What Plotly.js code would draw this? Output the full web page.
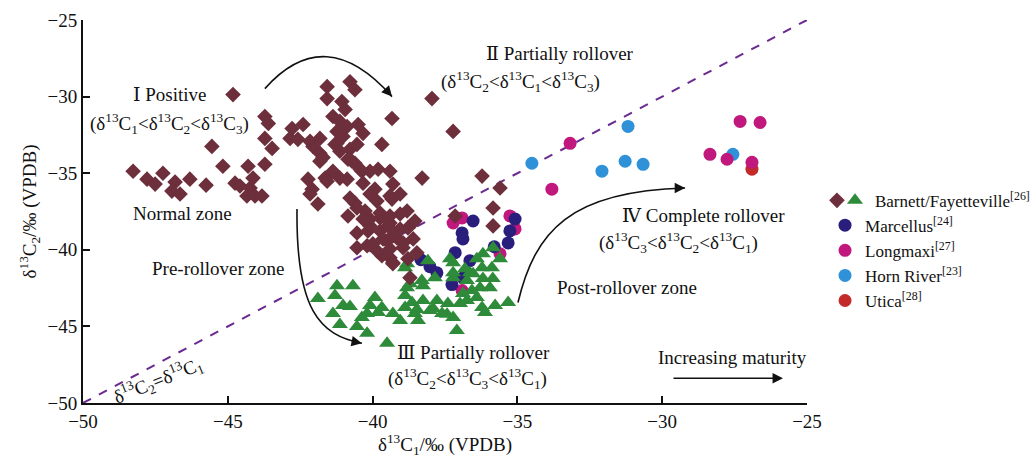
<!DOCTYPE html>
<html>
<head>
<meta charset="utf-8">
<script src="https://cdn.plot.ly/plotly-3.0.1.min.js"></script>
<style>html,body{margin:0;padding:0;background:#fff;}#chart{width:1032px;height:458px;}</style>
</head>
<body>
<div id="chart"></div>
<script>
// ---- data (δ13C1, δ13C2 in ‰ VPDB) ----
const barnettDiamondX = [-44.82,-43.72,-43.60,-43.72,-43.47,-45.55,-48.27,-47.79,-47.51,-47.24,-46.82,-46.93,-46.65,-46.31,-45.75,-45.17,-44.75,-44.58,-44.30,-44.13,-44.23,-44.34,-44.06,-43.82,-43.72,
 -42.78,-42.40,-42.85,-42.58,-42.16,-42.06,-41.82,-41.82,-42.23,-42.09,-41.89,-41.64,-41.57,-41.57,-41.06,-40.78,-40.61,-40.95,-41.37,-41.13,-40.88,-41.23,-41.02,-40.50,-40.33,-41.30,-41.13,-40.78,-40.85,-40.61,-41.13,-40.88,-40.37,-40.33,-40.09,-39.92,-39.68,-39.33,-39.40,-39.85,-39.33,-39.30,-38.81,-39.05,-40.61,-40.26,-40.09,-39.74,-40.54,-40.16,-39.74,-39.47,-39.99,-39.50,-39.16,-38.95,-39.40,-39.30,-38.29,-37.95,-39.68,-38.78,-38.60,
 -41.57,-42.16,-40.78,-40.54,-40.09,-39.40,-39.05,-40.85,-40.33,-39.74,-39.40,-40.09,-39.40,-39.05,-38.54,-39.64,-39.30,-38.95,-40.54,-40.19,-39.85,-39.40,-38.47,-38.78,
 -41.82,-41.71,-41.23,-40.54,-40.71,-40.43,-39.81,-41.37,
 -35.84,-35.84,-37.15,-38.71,-39.30,-36.22,-35.60,-37.22];
const barnettDiamondY = [-29.87,-31.30,-31.75,-32.73,-33.38,-33.25,-34.87,-35.39,-35.71,-35.00,-35.58,-36.17,-36.36,-35.39,-35.78,-34.55,-35.65,-35.84,-34.55,-35.32,-35.97,-36.49,-36.49,-36.49,-34.42,
 -32.08,-31.82,-32.73,-32.79,-32.92,-33.25,-33.70,-34.22,-35.39,-36.04,-37.01,-35.32,-30.13,-29.35,-30.32,-29.03,-29.55,-30.84,-31.30,-31.62,-31.95,-32.27,-32.60,-31.82,-32.40,-33.12,-33.57,-33.44,-34.09,-34.35,-35.32,-35.39,-34.87,-35.65,-34.87,-36.04,-33.12,-31.43,-34.87,-36.82,-36.69,-35.71,-37.47,-37.66,-36.95,-37.47,-37.99,-37.92,-38.90,-38.77,-38.77,-38.44,-39.61,-39.42,-39.22,-39.87,-40.52,-40.84,-35.32,-30.13,-40.39,-38.57,-39.29,
 -35.52,-36.36,-36.62,-37.27,-36.36,-36.49,-36.36,-37.79,-37.99,-37.60,-37.79,-38.44,-38.25,-38.64,-38.12,-39.29,-39.09,-39.55,-39.87,-39.74,-40.06,-39.94,-40.19,-40.58,
 -32.73,-33.97,-33.05,-33.12,-34.22,-34.74,-34.74,-34.87,
 -37.27,-38.44,-37.79,-41.82,-40.91,-35.19,-35.97,-32.27];

const barnettTriangleX = [-41.89,-41.23,-40.68,-41.30,-41.02,-40.78,-41.37,-41.13,-40.54,-40.19,-39.50,-39.92,-40.09,-40.19,-39.81,-39.68,-40.37,-39.30,-39.05,-38.88,-38.88,-38.64,-38.54,-38.43,-38.26,-38.26,-38.02,-37.78,-37.60,-37.40,-37.22,-37.09,-36.98,-36.88,-36.57,-36.40,-36.22,-36.12,-35.77,-35.32,-37.85,-37.22,-36.74,-36.19,-35.95,-38.88,-38.09,-37.22,-36.81,-36.19,-35.84,-35.60,-35.88,-36.22,-38.71,-36.53,-36.29,-35.85,-36.74,-37.91,-38.47,-38.81,-38.81,-37.43,-38.30,-37.33,-37.22,-36.40,-36.64];
const barnettTriangleY = [-43.18,-42.34,-42.34,-42.99,-43.64,-43.70,-44.16,-44.87,-45.00,-45.45,-46.10,-43.12,-43.64,-44.16,-44.09,-43.77,-44.42,-44.16,-44.61,-42.99,-43.77,-43.44,-44.16,-44.61,-42.34,-43.31,-43.96,-43.31,-44.16,-43.51,-44.42,-45.26,-43.51,-42.86,-42.66,-43.12,-43.77,-44.09,-43.64,-43.44,-41.82,-41.82,-42.01,-41.88,-42.47,-41.17,-40.71,-40.84,-41.23,-40.26,-39.87,-40.58,-41.17,-41.17,-42.21,-41.56,-42.47,-41.88,-43.31,-43.83,-43.90,-40.91,-42.47,-44.20,-42.00,-40.58,-41.49,-40.58,-41.49];

const marcellusX = [-36.53,-36.91,-36.88,-37.15,-36.64,-36.88,-37.26,-37.78,-38.02,-38.33,-35.08,-35.26,-35.32,-35.80];
const marcellusY = [-38.12,-38.90,-39.29,-40.19,-40.71,-41.82,-42.27,-41.50,-41.10,-40.65,-37.99,-38.77,-39.55,-39.80];

const longmaxiX = [-36.91,-37.22,-35.26,-35.08,-35.60,-36.91,-33.18,-33.81,-27.31,-26.62,-28.35,-27.76,-26.90];
const longmaxiY = [-37.92,-38.25,-37.79,-38.64,-40.26,-42.66,-33.05,-36.04,-31.62,-31.69,-33.77,-34.09,-34.29];

const hornRiverX = [-34.50,-31.18,-32.08,-31.28,-30.66,-27.56];
const hornRiverY = [-34.35,-31.95,-34.87,-34.22,-34.42,-33.77];

const uticaX = [-26.90];
const uticaY = [-34.74];

const equalLineX = [-50, -25];
const equalLineY = [-50, -25];

const tickVals = [-50, -45, -40, -35, -30, -25];

const seriesNames = {
  barnett: 'Barnett/Fayetteville<sup>[26]</sup>',
  marcellus: 'Marcellus<sup>[24]</sup>',
  longmaxi: 'Longmaxi<sup>[27]</sup>',
  hornRiver: 'Horn River<sup>[23]</sup>',
  utica: 'Utica<sup>[28]</sup>'
};

// ---- styling ----
const SERIF = '"Liberation Serif", "Times New Roman", "DejaVu Serif", serif';
const C_DIAMOND = '#6d2f3b';
const C_TRI = '#2e8b3a';
const C_MARC = '#2a1e7c';
const C_LONG = '#c0187c';
const C_HORN = '#2f92d8';
const C_UTICA = '#c42a2a';

const traces = [
  {x: equalLineX, y: equalLineY, mode: 'lines', line: {color: '#6b2a8f', width: 2, dash: 'dash'}, showlegend: false, hoverinfo: 'skip'},
  {x: uticaX, y: uticaY, mode: 'markers', name: seriesNames.utica, legend: 'legend', legendrank: 4,
   marker: {symbol: 'circle', size: 13, color: C_UTICA}},
  {x: hornRiverX, y: hornRiverY, mode: 'markers', name: seriesNames.hornRiver, legend: 'legend', legendrank: 3,
   marker: {symbol: 'circle', size: 13, color: C_HORN}},
  {x: longmaxiX, y: longmaxiY, mode: 'markers', name: seriesNames.longmaxi, legend: 'legend', legendrank: 2,
   marker: {symbol: 'circle', size: 13, color: C_LONG}},
  {x: marcellusX, y: marcellusY, mode: 'markers', name: seriesNames.marcellus, legend: 'legend', legendrank: 1,
   marker: {symbol: 'circle', size: 13, color: C_MARC}},
  {x: barnettTriangleX, y: barnettTriangleY, mode: 'markers', name: seriesNames.barnett, legend: 'legend3',
   marker: {symbol: 'triangle-up', size: 14, color: C_TRI}},
  {x: barnettDiamondX, y: barnettDiamondY, mode: 'markers', name: ' ', legend: 'legend2',
   marker: {symbol: 'diamond', size: 12, color: C_DIAMOND}}
];

const ANN_SIZE = 19;
const txt = (x, y, text, extra) => Object.assign({x: x, y: y, xref: 'x', yref: 'y', text: text, showarrow: false,
  font: {family: SERIF, size: ANN_SIZE, color: '#111'}}, extra || {});
const head = (x, y, ax, ay) => ({x: x, y: y, xref: 'x', yref: 'y', ax: ax, ay: ay, text: '', showarrow: true,
  arrowhead: 2, arrowsize: 1.3, arrowwidth: 1.6, arrowcolor: '#111'});

const annotations = [
  txt(-47.0, -29.87, 'Ⅰ Positive'),
  txt(-47.0, -31.75, '(δ<sup>13</sup>C<sub>1</sub>&lt;δ<sup>13</sup>C<sub>2</sub>&lt;δ<sup>13</sup>C<sub>3</sub>)'),
  txt(-46.55, -37.66, 'Normal zone'),
  txt(-33.53, -27.21, 'Ⅱ Partially rollover'),
  txt(-34.91, -29.03, '(δ<sup>13</sup>C<sub>2</sub>&lt;δ<sup>13</sup>C<sub>1</sub>&lt;δ<sup>13</sup>C<sub>3</sub>)'),
  txt(-45.34, -41.23, 'Pre-rollover zone'),
  txt(-36.53, -46.69, 'Ⅲ Partially rollover'),
  txt(-36.71, -48.38, '(δ<sup>13</sup>C<sub>2</sub>&lt;δ<sup>13</sup>C<sub>3</sub>&lt;δ<sup>13</sup>C<sub>1</sub>)'),
  txt(-28.59, -37.79, 'Ⅳ Complete rollover'),
  txt(-29.45, -39.55, '(δ<sup>13</sup>C<sub>3</sub>&lt;δ<sup>13</sup>C<sub>2</sub>&lt;δ<sup>13</sup>C<sub>1</sub>)'),
  txt(-31.22, -42.47, 'Post-rollover zone'),
  txt(-27.56, -47.01, 'Increasing maturity'),
  txt(-47.41, -48.51, 'δ<sup>13</sup>C<sub>2</sub>=δ<sup>13</sup>C<sub>1</sub>', {textangle: -22}),
  head(-39.33, -30.0, -6.6, -7.5),
  head(-40.37, -46.10, -10, -2),
  head(-29.21, -35.97, -10, 0),
  {x: -25.83, y: -48.38, xref: 'x', yref: 'y', ax: -111, ay: 0, text: '', showarrow: true,
   arrowhead: 2, arrowsize: 1.3, arrowwidth: 1.6, arrowcolor: '#111'}
];

const shapes = [
  {type: 'path', xref: 'x', yref: 'y', path: 'M -43.72 -29.48 Q -41.64 -25.06 -39.33 -30.0', line: {color: '#111', width: 1.6}},
  {type: 'path', xref: 'x', yref: 'y', path: 'M -42.61 -37.34 C -42.65 -43.96 -41.82 -45.58 -40.37 -46.10', line: {color: '#111', width: 1.6}},
  {type: 'path', xref: 'x', yref: 'y', path: 'M -34.98 -43.44 C -34.39 -38.77 -33.18 -36.17 -29.21 -35.97', line: {color: '#111', width: 1.6}}
];

const axisCommon = {
  range: [-50, -25], tickvals: tickVals, ticks: 'inside', ticklen: 7, tickwidth: 2, tickcolor: '#111',
  showline: true, linecolor: '#111', linewidth: 2, showgrid: false, zeroline: false, mirror: false,
  tickfont: {family: SERIF, size: 19, color: '#111'}, automargin: false
};

const legendCommon = {xanchor: 'left', yanchor: 'top', bgcolor: 'rgba(0,0,0,0)', borderwidth: 0,
  font: {family: SERIF, size: 17, color: '#111'}, tracegroupgap: 0, itemclick: false, itemdoubleclick: false};

// plot area: 83..807 px horizontally inside a paper of 83..1032
const layout = {
  width: 1032, height: 458,
  margin: {l: 83, r: 0, t: 20, b: 55, autoexpand: false},
  paper_bgcolor: '#fff', plot_bgcolor: '#fff',
  font: {family: SERIF, size: 18, color: '#111'},
  xaxis: Object.assign({}, axisCommon, {
    domain: [0, 724 / 949],
    title: {text: 'δ<sup>13</sup>C<sub>1</sub>/‰ (VPDB)', font: {family: SERIF, size: 19, color: '#111'}, standoff: 5}
  }),
  yaxis: Object.assign({}, axisCommon, {
    title: {text: 'δ<sup>13</sup>C<sub>2</sub>/‰ (VPDB)', font: {family: SERIF, size: 19, color: '#111'}, standoff: 6}
  }),
  legend: Object.assign({}, legendCommon, {x: 0.7819, y: 0.51}),
  legend2: Object.assign({}, legendCommon, {x: 0.7734, y: 0.575}),
  legend3: Object.assign({}, legendCommon, {x: 0.7924, y: 0.575}),
  annotations: annotations,
  shapes: shapes,
  showlegend: true
};

Plotly.newPlot('chart', traces, layout, {staticPlot: true, displayModeBar: false});
</script>
</body>
</html>
